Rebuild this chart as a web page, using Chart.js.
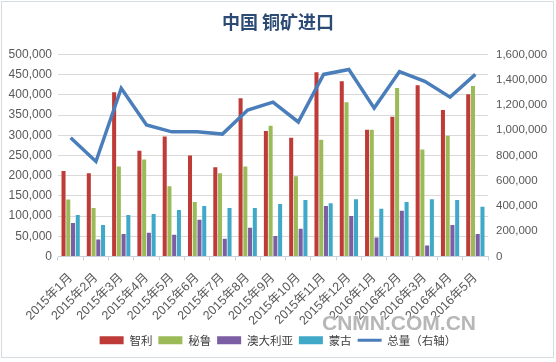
<!DOCTYPE html>
<html><head><meta charset="utf-8">
<script src="https://cdn.jsdelivr.net/npm/chart.js@4/dist/chart.umd.min.js"></script>
<style>html,body{margin:0;padding:0;background:#fff;}#wrap{width:556px;height:362px;}</style>
</head><body><div id="wrap"><canvas id="c" width="556" height="362"></canvas></div>
<script>
const categories = ["2015年1月","2015年2月","2015年3月","2015年4月","2015年5月","2015年6月","2015年7月","2015年8月","2015年9月","2015年10月","2015年11月","2015年12月","2016年1月","2016年2月","2016年3月","2016年4月","2016年5月"];
const chile     = [212000,206000,407000,262000,297000,250000,221000,392000,311000,294000,456000,434000,314000,346000,424000,363000,402000];
const peru      = [141000,120000,223000,240000,174000,135000,206000,223000,324000,199000,289000,382000,314000,417000,265000,299000,422000];
const australia = [83000,42000,56000,59000,54000,91000,44000,71000,51000,69000,125000,100000,47000,113000,27000,78000,56000];
const mongolia  = [103000,78000,103000,105000,115000,125000,120000,120000,130000,140000,132000,142000,118000,135000,142000,140000,123000];
const total     = [941000,753000,1333000,1043000,988000,988000,970000,1161000,1223000,1066000,1443000,1482000,1176000,1466000,1388000,1263000,1443000];
const leftTicks = [0,50000,100000,150000,200000,250000,300000,350000,400000,450000,500000];
const rightTicks = [0,200000,400000,600000,800000,1000000,1200000,1400000,1600000];

const fmt = v => v.toLocaleString('en-US');
const fam = "'Liberation Sans', 'Noto Sans CJK SC', sans-serif";

const framePlugin = {
  id: 'frame',
  beforeDraw(chart) {
    const ctx = chart.ctx;
    ctx.save();
    ctx.fillStyle = '#ffffff';
    ctx.fillRect(0, 0, chart.width, chart.height);
    ctx.restore();
  },
  afterDraw(chart) {
    const ctx = chart.ctx;
    ctx.save();
    ctx.strokeStyle = '#D5DCE3';
    ctx.lineWidth = 1;
    ctx.strokeRect(1.5, 1.5, 552, 356);
    ctx.font = "bold 21px 'Liberation Sans', sans-serif";
    ctx.textAlign = 'left';
    ctx.textBaseline = 'middle';
    ctx.fillStyle = 'rgba(255,255,255,0.9)';
    ctx.fillText('CNMN.COM.CN', 323, 325);
    ctx.fillStyle = 'rgba(170,170,170,0.85)';
    ctx.fillText('CNMN.COM.CN', 322, 324);
    ctx.restore();
  }
};

new Chart(document.getElementById('c'), {
  type: 'bar',
  data: {
    labels: categories,
    datasets: [
      {label: '智利', data: chile, backgroundColor: '#BE3B37', yAxisID: 'y', order: 1},
      {label: '秘鲁', data: peru, backgroundColor: '#9BBB59', yAxisID: 'y', order: 1},
      {label: '澳大利亚', data: australia, backgroundColor: '#7B5EA3', yAxisID: 'y', order: 1},
      {label: '蒙古', data: mongolia, backgroundColor: '#3FA9C7', yAxisID: 'y', order: 1},
      {label: '总量（右轴）', data: total, type: 'line', borderColor: '#4A7EBB', backgroundColor: '#4A7EBB', borderWidth: 3.5, pointRadius: 0, tension: 0, yAxisID: 'y1', order: 0}
    ]
  },
  options: {
    responsive: false,
    animation: false,
    devicePixelRatio: 1,
    datasets: {bar: {categoryPercentage: 0.75, barPercentage: 0.85}},
    layout: {padding: {left: 0, right: 0, top: 0, bottom: 6}},
    plugins: {
      tooltip: {enabled: false},
      title: {
        display: true,
        text: '中国 铜矿进口',
        color: '#2B4A74',
        font: {family: "'Noto Sans CJK SC', sans-serif", size: 18, weight: 'bold'},
        padding: {top: 11, bottom: 22}
      },
      legend: {
        position: 'bottom',
        labels: {
          usePointStyle: true,
          pointStyleWidth: 24,
          boxHeight: 8,
          padding: 6,
          color: '#404040',
          font: {family: "'Noto Sans CJK SC', sans-serif", size: 11.5},
          generateLabels(chart) {
            const items = Chart.defaults.plugins.legend.labels.generateLabels(chart);
            items.sort((a, b) => a.datasetIndex - b.datasetIndex);
            items.forEach(it => {
              const ds = chart.data.datasets[it.datasetIndex];
              if (ds.type === 'line') { it.pointStyle = 'line'; it.lineWidth = 3; it.strokeStyle = ds.borderColor; }
              else { it.pointStyle = 'rect'; it.lineWidth = 0; it.strokeStyle = ds.backgroundColor; }
            });
            return items;
          }
        }
      }
    },
    scales: {
      x: {
        grid: {display: true, drawOnChartArea: false, drawTicks: true, tickLength: 4, color: '#C9D3DE', offset: true},
        border: {display: true, color: '#C9D3DE'},
        ticks: {color: '#595959', font: {family: fam, size: 12.5}, maxRotation: 45, minRotation: 45, autoSkip: false, padding: 10},
        afterFit(scale) { scale.height = 72; }
      },
      y: {
        position: 'left',
        min: 0, max: 500000,
        afterBuildTicks(scale) { scale.ticks = leftTicks.map(v => ({value: v})); },
        grid: {color: '#D9D9D9', drawTicks: false},
        border: {display: false},
        ticks: {color: '#595959', font: {family: fam, size: 12}, padding: 6, callback: v => fmt(v)},
        afterFit(scale) { scale.width = 58; }
      },
      y1: {
        position: 'right',
        min: 0, max: 1600000,
        afterBuildTicks(scale) { scale.ticks = rightTicks.map(v => ({value: v})); },
        grid: {display: false, drawTicks: false},
        border: {display: false},
        ticks: {color: '#595959', font: {family: fam, size: 11.5}, padding: 8, callback: v => fmt(v)},
        afterFit(scale) { scale.width = 68; }
      }
    }
  },
  plugins: [framePlugin]
});
</script>
</body></html>
